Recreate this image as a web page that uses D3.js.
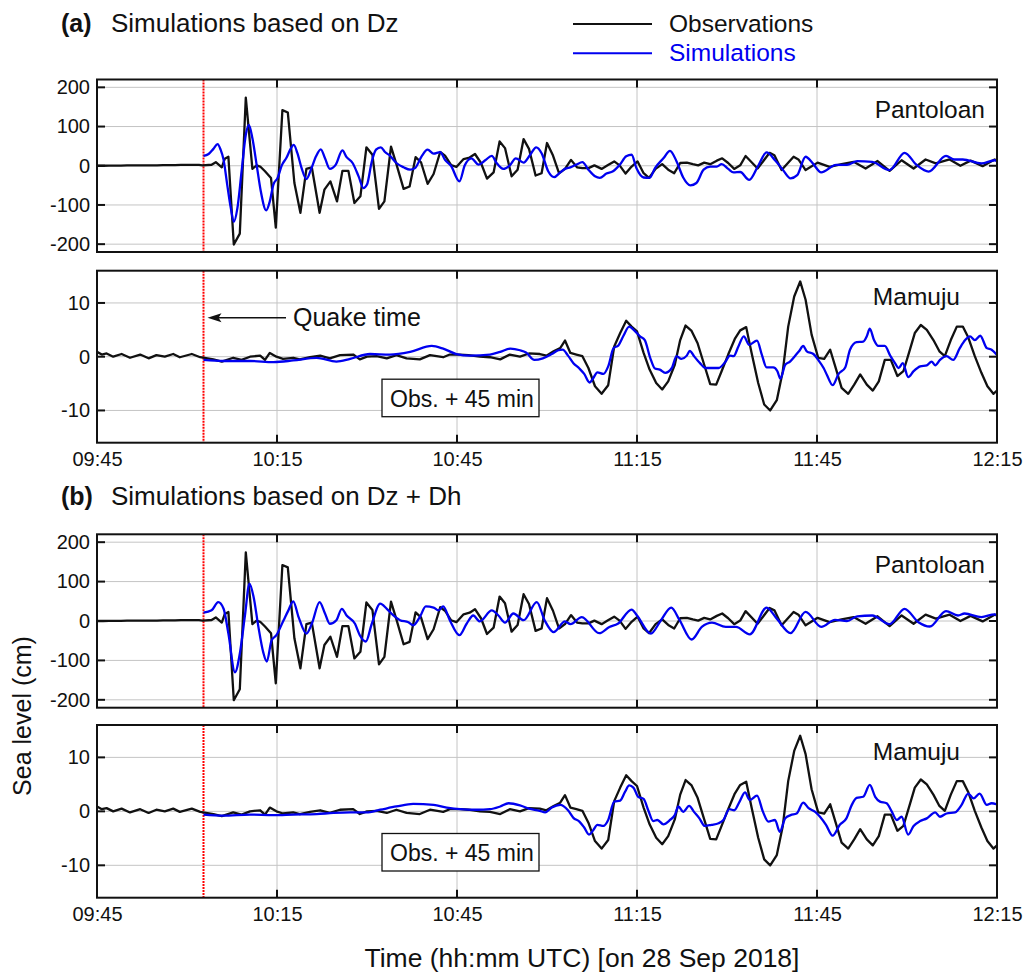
<!DOCTYPE html>
<html>
<head>
<meta charset="utf-8">
<script src="https://cdn.jsdelivr.net/npm/d3@7"></script>
<style>
  html, body { margin: 0; padding: 0; background: #fff; }
  svg { display: block; font-family: "Liberation Sans", Arial, Helvetica, sans-serif; }
</style>
</head>
<body>
<svg id="chart" width="1033" height="976"></svg>
<script>
// Sea level records on 28 Sep 2018. Each point is [minutes after 09:45 UTC, sea level in cm].
const startTime = Date.UTC(2018, 8, 28, 9, 45);
const endTime = Date.UTC(2018, 8, 28, 12, 15);
const quakeMinute = 17.75; // 10:02:45 UTC

const timeTickMinutes = [0, 30, 60, 90, 120, 150];
const timeTickLabels = ["09:45", "10:15", "10:45", "11:15", "11:45", "12:15"];
const pantoloanTicks = [-200, -100, 0, 100, 200];
const mamujuTicks = [-10, 0, 10];

const pantoloanObs = [
  [0,0],[1,0],[2,0.5],[3,0.5],[4,0.5],[5,1],[6,1],[7,1],[8,1],[9,1],[10,1],[11,1.5],[12,1.5],[13,1.5],[14,2],[15,2],[16,2],[17,2],
  [17.6,1],[19.1,2.5],[19.8,9],[20.8,-4],[21.3,18],[21.9,23],[22.8,-201],[23.8,-173],[24.8,174],[25.9,-8],[26.6,1],[27.2,-2],
  [28.0,-14],[29.0,-31],[29.8,-158],[30.9,142],[31.8,136],[32.9,-44],[33.9,-120],[34.9,-8],[35.8,-4],[37.1,-120],[37.9,-61],
  [38.9,-40],[40.0,-91],[40.9,-13],[41.9,-13],[42.9,-95],[43.9,-78],[44.9,47],[45.9,28],[47.0,-110],[47.9,-91],[49.0,49],
  [49.9,4],[51.1,-59],[52.1,-53],[53.1,22],[54.0,9],[55.1,-46],[56.1,-21],[57.2,35],[58.0,26],[59.0,2],[59.9,-3],[61.1,17],
  [62.1,21],[63.0,30],[64.0,7],[65.0,-33],[66.1,-17],[67.1,62],[68.0,45],[69.1,-27],[70.1,-10],[71.1,68],[72.0,43],[73.1,-25],
  [74.1,-19],[75.0,58],[76.0,26],[77.0,-19],[78.0,-8],[79.0,15],[80.0,-4],[80.9,-6],[81.9,-6],[82.9,1],[84.1,-8],[85.1,1],
  [86.2,11],[87.1,1],[88.1,-20],[89.1,-2],[90.1,11],[91.1,-19],[92.0,-31],[93.1,-8],[94.2,4],[95.2,-10],[96.2,-19],[97.2,7],
  [98.3,8],[99.3,4],[100.2,1],[101.2,8],[102.2,4],[103.3,13],[104.2,19],[105.2,7],[106.2,-8],[107.2,1],[108.1,25],[110.1,-7],
  [112.1,33],[112.9,27],[114.1,-11],[116.1,23],[116.9,16],[118.1,-11],[120.1,8],[122.1,-3],[124.1,4],[126.1,10],[128.1,-7],
  [130.1,12],[132.1,-13],[134.1,14],[136.1,-7],[138.1,16],[139.8,6],[142.1,16],[143.9,0],[145.6,13],[147.6,-1],[149.6,16],[150,14]
];

const pantoloanSimDz = [
  [17.75,25],[18.6,30],[19.4,43],[20.1,55],[20.6,41],[21.1,15],[21.7,-48],[22.3,-108],[22.8,-143],[23.4,-108],[24.1,-14],
  [24.8,79],[25.3,104],[25.9,70],[26.6,3],[27.3,-65],[28.2,-114],[28.8,-91],[29.4,-48],[30.1,-31],[30.8,1],[31.6,21],[32.2,41],
  [32.8,53],[33.4,32],[34.1,-6],[34.9,-34],[35.7,-8],[36.5,24],[37.3,42],[38.0,19],[38.8,-8],[39.8,3],[40.9,39],[41.6,22],
  [42.6,7],[43.6,-27],[44.4,-57],[45.0,-48],[45.8,11],[46.5,41],[47.3,47],[48.0,35],[48.8,26],[49.9,7],[51.1,-4],[52.2,-10],
  [53.0,-6],[54.1,24],[55.1,41],[56.1,31],[57.2,35],[58.0,15],[59.0,0],[60.4,-40],[61.3,1],[62.4,19],[63.6,3],[64.7,14],
  [65.8,25],[66.6,7],[67.7,-8],[68.8,1],[69.8,19],[71.1,8],[72.2,28],[73.2,47],[74.1,32],[75.2,-14],[76.2,-29],[77.2,-17],
  [78.0,-8],[78.9,-4],[79.9,3],[80.9,9],[81.9,-10],[83.0,-27],[83.8,-31],[84.9,-20],[86.0,-14],[87.2,4],[88.2,24],[89.1,28],
  [89.9,-6],[91.1,-30],[92.1,-31],[93.0,-6],[94.4,19],[95.5,38],[96.6,11],[97.7,-30],[98.9,-50],[99.9,-44],[101.1,-10],
  [102.2,-2],[103.3,-2],[104.1,4],[105.2,-8],[106.1,-17],[107.2,-16],[108.7,-36],[110.2,0],[111.6,34],[113.0,14],[114.3,-10],
  [115.6,-32],[116.7,-24],[118.1,23],[119.3,6],[120.7,-17],[123.2,2],[125.0,2],[126.7,12],[129.2,10],[132.1,-11],[134.6,33],
  [136.6,2],[138.6,-15],[141.5,25],[142.9,16],[144.3,16],[147.4,6],[149.6,14],[150,12]
];

const pantoloanSimDzDh = [
  [17.75,21],[19.1,27],[20.2,48],[21.1,31],[21.9,-32],[23.0,-130],[23.8,-83],[24.7,19],[25.4,95],[26.1,61],[26.9,-15],
  [27.7,-79],[28.3,-103],[29.1,-49],[29.9,-36],[31.1,2],[31.9,27],[32.7,50],[33.6,10],[34.9,-32],[35.8,-7],[37.1,48],
  [38.0,19],[38.8,-7],[39.9,2],[40.8,31],[41.6,14],[43.0,-7],[43.8,-36],[44.8,-52],[45.8,-7],[47.2,44],[48.3,31],[49.4,14],
  [50.5,2],[51.9,-3],[52.7,-11],[53.8,10],[54.8,37],[56.1,34],[56.9,27],[57.7,37],[58.8,2],[60.4,-36],[61.6,-7],[62.7,14],
  [63.8,-1],[65.8,27],[66.9,14],[68.0,-4],[69.4,19],[71.1,2],[73.3,48],[74.6,2],[76.1,-28],[78.0,-1],[78.9,-8],[80.8,10],
  [83.7,-31],[85.4,-15],[86.8,-7],[89.1,29],[90.0,14],[92.3,-32],[94.0,2],[95.7,34],[97.1,2],[99.1,-47],[100.8,-15],
  [102.5,-4],[104.8,-15],[106.5,-15],[108.8,-34],[111.6,34],[113.3,6],[115.6,-31],[118.1,23],[120.7,-15],[123.0,3],
  [125.0,0],[126.7,12],[129.2,14],[132.1,-8],[134.6,31],[136.9,-3],[138.8,-14],[141.5,25],[143.5,14],[144.6,19],[147.4,10],
  [149.6,17],[150,14]
];

// Mamuju observations are plotted 45 min later than recorded.
const mamujuObs = [
  [0,0.9],[0.8,0.4],[1.6,0.6],[2.7,0],[4.1,0.5],[5.5,-0.2],[7.2,0.4],[8.6,-0.3],[9.9,0.3],[11.3,0],[12.7,0.5],[13.8,-0.1],
  [15.8,0.5],[17.2,-0.1],[19.4,-0.5],[20.8,-0.9],[22.7,-0.2],[24.1,-0.6],[25.5,0],[27.2,0.2],[28,-0.6],[28.8,0.7],[29.9,0],
  [31,-0.4],[32.7,-0.2],[33.8,-0.5],[35.5,-0.1],[37.2,0.2],[38.8,-0.3],[40.5,0.3],[42.7,0.4],[43.8,-0.5],[45,0],[46.6,0.1],
  [48.3,-0.3],[49.9,0.3],[51.6,-0.3],[53.8,-0.5],[55.5,0.3],[57.7,-0.1],[58.8,0.4],[60.5,0.4],[61.9,0.3],[63.8,0],[65.5,-0.1],
  [67.2,-0.5],[68.8,0.4],[70.5,0],[72,0.6],[73.8,0.5],[74.9,0.2],[76.1,1.0],[77.2,1.6],[78.0,3.0],[78.9,0.7],[79.9,0.4],
  [80.9,0.1],[81.9,-2.1],[83.0,-5.5],[84.1,-6.9],[85.2,-5.3],[86.2,1.9],[87.2,4.4],[88.2,6.7],[89.1,5.6],[90.0,4.7],[91.1,0.7],
  [92.1,-2.4],[93.2,-4.9],[94.2,-6.1],[95.2,-4.6],[96.3,-1.5],[97.2,3.1],[98.1,5.8],[99.1,4.8],[100.1,2.5],[101.2,-1.5],
  [102.2,-5.1],[103.2,-5.2],[104.1,-2.7],[105.2,0.4],[106.3,3.3],[107.2,4.9],[108.2,5.5],[109.1,0.7],[110.2,-4.9],[111.2,-8.9],
  [112.2,-10.0],[113.3,-8.1],[114.3,-2.7],[115.2,5.6],[116.2,11.2],[117.2,14.0],[118.1,10.6],[119.1,4.1],[120.2,-0.2],
  [121.2,-0.4],[122.2,1.3],[123.2,-2.4],[124.1,-5.8],[125.2,-6.9],[126.2,-5.2],[127.2,-3.3],[128.3,-5.2],[129.3,-6.3],
  [130.3,-4.6],[131.3,-0.6],[132.3,-0.6],[133.4,-3.6],[134.4,-2.7],[135.4,1.0],[136.3,4.4],[137.3,5.9],[138.3,5.0],[139.4,3.1],
  [140.4,1.0],[141.3,0.1],[142.3,3.1],[143.3,5.6],[144.3,5.6],[145.2,3.6],[146.3,0.1],[147.4,-3.0],[148.4,-5.5],[149.4,-6.9],
  [150,-6.3]
];

const mamujuSimDz = [
  [17.75,-0.6],[21,-0.8],[25.5,-0.8],[29.4,-1.0],[32.7,-0.7],[36.6,-0.2],[39.9,-0.9],[42.2,-0.4],[45.5,0.5],[48.8,0.4],
  [52.2,0.9],[55.8,2.0],[57.7,1.5],[59.9,0.5],[62.2,0.2],[65.5,0.4],[67.2,0.9],[68.9,1.5],[70.5,1.2],[71.5,0.8],[72.9,-0.6],
  [74.3,-0.3],[75.8,0.5],[76.9,1.2],[77.6,1.3],[78.5,0.2],[79.4,-1.2],[80.4,-2.2],[81.2,-3.2],[82.1,-4.8],[82.7,-4.0],
  [83.4,-2.9],[84.4,-3.2],[85.2,-1.8],[86.1,1.6],[86.9,2.1],[87.7,3.8],[88.7,5.6],[89.7,4.7],[90.5,3.8],[91.3,3.1],[92.2,-0.2],
  [93.0,-2.2],[93.8,-2.4],[94.7,-3.0],[95.8,-2.1],[96.6,0.1],[97.4,-0.4],[98.3,0.2],[98.8,1.1],[99.5,0.1],[100.5,-1.2],
  [101.4,-2.1],[102.4,-2.1],[103.6,-2.1],[104.7,-1.0],[105.5,0.2],[106.1,0.1],[106.9,1.9],[107.8,3.8],[108.7,2.2],[110.0,3.0],
  [110.8,0.4],[111.6,-2.0],[112.7,-2.0],[113.4,-2.7],[113.9,-4.1],[114.7,-1.5],[115.5,-0.9],[116.3,0.1],[117.0,1.0],[117.7,2.0],
  [118.3,1.0],[119.4,0.5],[120.2,-0.6],[121.1,-2.1],[121.7,-3.5],[122.6,-5.3],[123.6,-3.2],[124.7,-2.0],[125.5,1.3],[126.6,2.7],
  [127.7,2.8],[128.3,3.8],[128.8,5.2],[129.5,3.1],[130.2,2.0],[131.3,2.0],[132.2,0.2],[133.0,-1.2],[133.6,-2.1],[134.3,-1.2],
  [135.2,-3.8],[136.1,-2.7],[137.2,-1.8],[138.3,-1.6],[139.1,-0.9],[139.7,-1.6],[140.5,-0.6],[141.6,0.1],[142.7,-0.6],
  [143.8,1.6],[144.7,3.1],[145.5,3.8],[146.3,3.1],[147.2,3.9],[148.3,1.6],[149.1,1.3],[150,0.3]
];

const mamujuSimDzDh = [
  [17.75,-0.6],[21,-0.8],[25.5,-0.6],[29.4,-0.7],[32.7,-0.6],[36.6,-0.5],[39.4,-0.3],[42.2,-0.2],[44.9,-0.2],[47.2,0.3],
  [49.9,0.9],[52.7,1.4],[56.1,1.2],[58.3,0.7],[60.5,0.4],[63.3,0.3],[65.5,0.4],[67.2,0.9],[68.6,1.5],[70.5,1.1],[72,0.5],
  [73.8,0.1],[74.7,-0.2],[75.8,0.7],[77.2,1.2],[78.5,0.2],[79.4,-1.2],[80.4,-1.9],[81.2,-3.0],[82.0,-4.3],[82.7,-3.5],
  [83.4,-2.5],[84.4,-2.7],[85.2,-1.6],[86.2,1.8],[87.2,2.0],[88.0,3.6],[88.7,4.8],[89.4,4.4],[90.2,2.7],[91.1,2.3],[91.9,0.1],
  [92.7,-1.8],[93.4,-1.6],[94.4,-2.4],[95.5,-1.6],[96.3,-0.7],[96.9,0.9],[97.7,-0.1],[98.7,1.0],[99.5,-0.1],[100.4,-1.3],
  [101.3,-2.7],[102.4,-2.5],[103.6,-2.2],[104.4,-1.6],[105.4,0.4],[106.2,0.2],[107.1,1.8],[108.0,3.5],[108.8,2.1],[110.0,2.9],
  [111.0,-0.1],[111.9,-1.9],[113.0,-1.6],[113.8,-3.8],[114.7,-1.3],[115.6,-0.7],[116.6,-0.4],[117.7,1.6],[118.6,0.6],
  [119.7,-0.1],[120.5,-1.0],[121.5,-2.5],[122.6,-4.5],[123.8,-2.5],[124.9,-1.3],[125.8,1.2],[126.6,2.5],[127.7,2.7],
  [128.8,4.9],[129.7,2.7],[130.5,1.8],[131.6,1.5],[132.4,0.1],[133.3,-1.6],[134.1,-1.0],[135.2,-4.3],[136.1,-2.7],[137.2,-1.8],
  [138.3,-1.3],[139.7,-0.2],[140.5,-1.0],[141.6,-0.4],[143.0,-0.2],[144.1,1.2],[145.2,3.3],[146.1,2.4],[147.1,3.3],[148.3,1.2],
  [149.1,1.5],[150,1.3]
];

// ---- drawing ----
const svg = d3.select("#chart");
const toDate = m => new Date(startTime + m * 60000);

const x = d3.scaleUtc().domain([new Date(startTime), new Date(endTime)]).range([97, 997]);
const timeTicks = timeTickMinutes.map(toDate);

const OBS_COLOR = "#111";
const SIM_COLOR = "#0000f0";
const FONT_TICK = 20;

const panels = [
  { station: "Pantoloan", obs: pantoloanObs, sim: pantoloanSimDz, top: 79.5, bottom: 252, domain: [-220, 220], ticks: pantoloanTicks },
  { station: "Mamuju", obs: mamujuObs, sim: mamujuSimDz, top: 270.7, bottom: 442.7, domain: [-16, 16], ticks: mamujuTicks, quakeNote: true, shiftNote: true, timeLabels: true },
  { station: "Pantoloan", obs: pantoloanObs, sim: pantoloanSimDzDh, top: 534.3, bottom: 707.7, domain: [-220, 220], ticks: pantoloanTicks },
  { station: "Mamuju", obs: mamujuObs, sim: mamujuSimDzDh, top: 725, bottom: 897.7, domain: [-16, 16], ticks: mamujuTicks, shiftNote: true, timeLabels: true }
];

const [x0, x1] = x.range();

panels.forEach((p, i) => {
  const y = d3.scaleLinear().domain(p.domain).range([p.bottom, p.top]);
  const g = svg.append("g");
  const clipId = "clip" + i;
  svg.append("clipPath").attr("id", clipId)
    .append("rect").attr("x", x0).attr("y", p.top).attr("width", x1 - x0).attr("height", p.bottom - p.top);

  // grid
  g.append("g").selectAll("line").data(p.ticks).join("line")
    .attr("x1", x0).attr("x2", x1).attr("y1", d => y(d)).attr("y2", d => y(d))
    .attr("stroke", "#c4c4c4").attr("stroke-width", 1);
  g.append("g").selectAll("line").data(timeTicks.slice(1, -1)).join("line")
    .attr("x1", d => x(d)).attr("x2", d => x(d)).attr("y1", p.top).attr("y2", p.bottom)
    .attr("stroke", "#c4c4c4").attr("stroke-width", 1);

  // quake time marker
  g.append("line")
    .attr("x1", x(toDate(quakeMinute))).attr("x2", x(toDate(quakeMinute)))
    .attr("y1", p.top).attr("y2", p.bottom)
    .attr("stroke", "#f00").attr("stroke-width", 2).attr("stroke-dasharray", "2,1");

  // series
  const obsLine = d3.line().x(d => x(toDate(d[0]))).y(d => y(d[1]));
  const simLine = d3.line().x(d => x(toDate(d[0]))).y(d => y(d[1])).curve(d3.curveMonotoneX);
  const data = g.append("g").attr("clip-path", `url(#${clipId})`);
  data.append("path").datum(p.obs).attr("d", obsLine)
    .attr("fill", "none").attr("stroke", OBS_COLOR).attr("stroke-width", 2.3).attr("stroke-linejoin", "round");
  data.append("path").datum(p.sim).attr("d", simLine)
    .attr("fill", "none").attr("stroke", SIM_COLOR).attr("stroke-width", 2.3).attr("stroke-linejoin", "round");

  // axes: left labels, inward ticks on all four sides
  const axisLeft = d3.axisLeft(y).tickValues(p.ticks).tickFormat(d => String(d)).tickSize(0).tickPadding(7);
  const ga = g.append("g").attr("transform", `translate(${x0},0)`).call(axisLeft);
  ga.select(".domain").remove();
  ga.selectAll("text").attr("font-size", FONT_TICK).attr("fill", "#111").attr("font-family", null);

  const tickG = g.append("g").attr("stroke", "#111").attr("stroke-width", 2);
  p.ticks.forEach(v => {
    tickG.append("line").attr("x1", x0).attr("x2", x0 + 8).attr("y1", y(v)).attr("y2", y(v));
    tickG.append("line").attr("x1", x1 - 8).attr("x2", x1).attr("y1", y(v)).attr("y2", y(v));
  });
  timeTicks.forEach(t => {
    tickG.append("line").attr("x1", x(t)).attr("x2", x(t)).attr("y1", p.top).attr("y2", p.top + 8);
    tickG.append("line").attr("x1", x(t)).attr("x2", x(t)).attr("y1", p.bottom - 8).attr("y2", p.bottom);
  });

  if (p.timeLabels) {
    const axisBottom = d3.axisBottom(x).tickValues(timeTicks).tickFormat((d, k) => timeTickLabels[k])
      .tickSize(0).tickPadding(9);
    const gb = g.append("g").attr("transform", `translate(0,${p.bottom})`).call(axisBottom);
    gb.select(".domain").remove();
    gb.selectAll("text").attr("font-size", FONT_TICK).attr("fill", "#111").attr("font-family", null);
  }

  // frame
  g.append("rect").attr("x", x0).attr("y", p.top).attr("width", x1 - x0).attr("height", p.bottom - p.top)
    .attr("fill", "none").attr("stroke", "#111").attr("stroke-width", 2);

  // station name
  const isPanto = p.station === "Pantoloan";
  g.append("text").text(p.station)
    .attr("x", isPanto ? 985 : 960).attr("y", p.top + (isPanto ? 38.5 : 34.5))
    .attr("text-anchor", "end").attr("font-size", 24.5).attr("fill", "#111");

  if (p.quakeNote) {
    const ay = p.top + 47;
    const ax = x(toDate(quakeMinute)) + 4;
    g.append("line").attr("x1", ax + 10).attr("x2", 286).attr("y1", ay).attr("y2", ay)
      .attr("stroke", "#111").attr("stroke-width", 1.5);
    g.append("path").attr("d", `M${ax},${ay} L${ax + 14},${ay - 4.5} L${ax + 11},${ay} L${ax + 14},${ay + 4.5} Z`)
      .attr("fill", "#111");
    g.append("text").text("Quake time").attr("x", 293).attr("y", p.top + 55)
      .attr("font-size", 25).attr("fill", "#111");
  }

  if (p.shiftNote) {
    g.append("rect").attr("x", 382).attr("y", p.top + 108.5).attr("width", 157).attr("height", 37.5)
      .attr("fill", "#fff").attr("stroke", "#111").attr("stroke-width", 1.3);
    g.append("text").text("Obs. + 45 min").attr("x", 390).attr("y", p.top + 136)
      .attr("font-size", 23).attr("fill", "#111");
  }
});

// section headings
[["(a)", "Simulations based on Dz", 31.7], ["(b)", "Simulations based on Dz + Dh", 505]].forEach(([tag, label, yy]) => {
  svg.append("text").text(tag).attr("x", 61).attr("y", yy).attr("font-size", 25)
    .attr("font-weight", "bold").attr("fill", "#111");
  svg.append("text").text(label).attr("x", 111).attr("y", yy).attr("font-size", 26).attr("fill", "#111");
});

// legend
const legend = [["Observations", OBS_COLOR, 24, 32.3], ["Simulations", SIM_COLOR, 53.3, 60.7]];
legend.forEach(([name, color, ly, ty]) => {
  svg.append("line").attr("x1", 573).attr("x2", 652).attr("y1", ly).attr("y2", ly)
    .attr("stroke", color).attr("stroke-width", 2);
  svg.append("text").text(name).attr("x", 669).attr("y", ty).attr("font-size", 24.5).attr("fill", color);
});

// axis titles
svg.append("text").text("Sea level (cm)")
  .attr("transform", "translate(31,716) rotate(-90)")
  .attr("text-anchor", "middle").attr("font-size", 25).attr("fill", "#111");
svg.append("text").text("Time (hh:mm UTC) [on 28 Sep 2018]")
  .attr("x", 582).attr("y", 967).attr("text-anchor", "middle")
  .attr("font-size", 26.5).attr("fill", "#111");
</script>
</body>
</html>
